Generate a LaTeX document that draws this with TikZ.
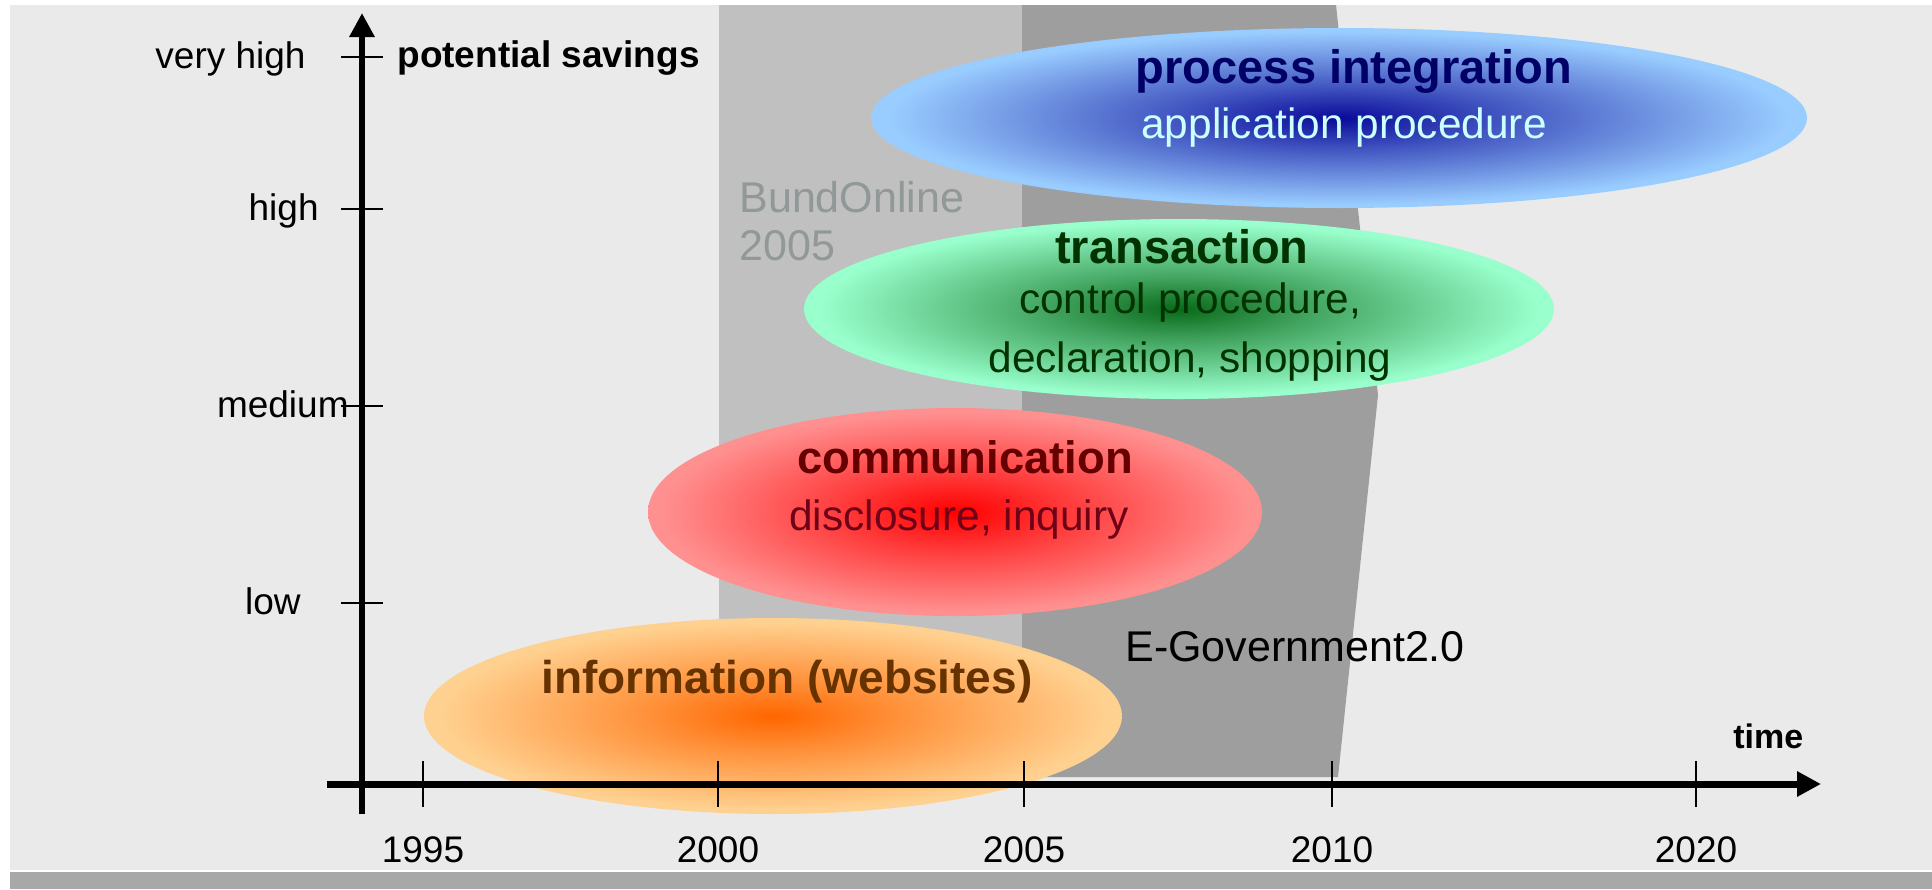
\documentclass[tikz,border=0pt]{standalone}
\usepackage{fontspec}
\setmainfont{Liberation Sans}
\usepackage{xcolor}
\usepackage{tikz}
\usetikzlibrary{arrows.meta}
\usetikzlibrary{shapes.geometric}
\definecolor{panel}{HTML}{EAEAEA}
\definecolor{footbar}{HTML}{A8A8A8}
\definecolor{bandlight}{HTML}{C0C0C0}
\definecolor{banddark}{HTML}{9E9E9E}
\definecolor{bandgray}{HTML}{909898}
\definecolor{intin}{HTML}{0A0A99}
\definecolor{intout}{HTML}{99CCFF}
\definecolor{trnin}{HTML}{0A6A1A}
\definecolor{trnout}{HTML}{99FFCC}
\definecolor{comin}{HTML}{FF0000}
\definecolor{comout}{HTML}{FF9090}
\definecolor{infin}{HTML}{FF6600}
\definecolor{infout}{HTML}{FFD190}
\definecolor{inttitle}{HTML}{000066}
\definecolor{intsub}{HTML}{CCFFFF}
\definecolor{trntitle}{HTML}{003300}
\definecolor{comtitle}{HTML}{660000}
\definecolor{comsub}{HTML}{6E0018}
\definecolor{inftitle}{HTML}{663300}
\newcommand\fsz[1]{\fontsize{#1}{#1}\selectfont}
\newcommand\declareglow[3]{\pgfdeclareradialshading{#1}{\pgfpoint{0bp}{0bp}}{color(0bp)=(#2); color(9bp)=(#2!60!#3); color(24bp)=(#3); color(50bp)=(#3)}}
\declareglow{glowint}{intin}{intout}
\declareglow{glowtrn}{trnin}{trnout}
\declareglow{glowcom}{comin}{comout}
\declareglow{glowinf}{infin}{infout}
\tikzstyle{blob}=[ellipse,shade,inner sep=0pt]
\tikzstyle{title}=[inner sep=0pt,anchor=base,font=\fsz{23.5pt}\bfseries]
\tikzstyle{subtitle}=[inner sep=0pt,anchor=base,font=\fsz{21.2pt}]
\tikzstyle{level}=[inner sep=0pt,anchor=base east,font=\fsz{18.5pt}]
\tikzstyle{yearlabel}=[inner sep=0pt,anchor=base,font=\fsz{18.5pt}]
\tikzstyle{bandtext}=[inner sep=0pt,anchor=base west,font=\fsz{21.5pt}]
\tikzstyle{axis}=[-{Triangle[length=12pt,width=12pt]}]
\tikzstyle{tick}=[line width=0.8pt]

\begin{document}
\begin{tikzpicture}[x=0.5pt,y=-0.5pt]
	\useasboundingbox (0,0) rectangle (1932,889);
	% backdrop and the two project periods
	\fill[panel] (10,5) rectangle (1932,870);
	\fill[footbar] (10,872) rectangle (1932,889);
	\fill[bandlight] (719,5) rectangle (1022,777);
	\fill[banddark] (1022,5) -- (1336,5) -- (1378,395) -- (1338,777) -- (1022,777) -- cycle;
	\node[bandtext,text=bandgray] (bund) at (739,212) {BundOnline};
	\node[bandtext,text=bandgray] (bundyr) at (739,260) {2005};
	\node[bandtext] (egov) at (1125,661) {E-Government2.0};
	% stages
	\node[blob,shading=glowint,minimum width=468pt,minimum height=90pt] (integ) at (1339,118) {};
	\node[blob,shading=glowtrn,minimum width=375pt,minimum height=90pt] (trans) at (1179,309) {};
	\node[blob,shading=glowcom,minimum width=307pt,minimum height=104pt] (commu) at (955,512) {};
	\node[blob,shading=glowinf,minimum width=349pt,minimum height=98pt] (infor) at (773,716) {};
	\node[title,text=inttitle] (integ-t) at (1354,83) {process integration};
	\node[subtitle,text=intsub] (integ-s) at (1344,138) {application procedure};
	\node[title,text=trntitle] (trans-t) at (1182,263) {transaction};
	\node[subtitle,text=trntitle] (trans-s1) at (1190,313) {control procedure,};
	\node[subtitle,text=trntitle] (trans-s2) at (1190,372) {declaration, shopping};
	\node[title,text=comtitle,font=\fsz{22.7pt}\bfseries] (commu-t) at (965,473) {communication};
	\node[subtitle,text=comsub] (commu-s) at (959,530) {disclosure, inquiry};
	\node[title,text=inftitle,font=\fsz{23pt}\bfseries] (infor-t) at (787,693) {information (websites)};
	% axes
	\coordinate (ybot) at (362,814);
	\coordinate (ytop) at (362,13);
	\coordinate (xleft) at (327,784);
	\coordinate (xright) at (1821,784);
	\draw[axis,line width=3pt] (ybot) -- (ytop);
	\draw[axis,line width=3.5pt] (xleft) -- (xright);
	\node[level,anchor=base west,font=\fsz{18.5pt}\bfseries] (ylabel) at (397,67) {potential savings};
	\node[level,anchor=base west,font=\fsz{17pt}\bfseries] (xlabel) at (1733,748) {time};
	\foreach \yr/\tx in {1995/423,2000/718,2005/1024,2010/1332,2020/1696} {
		\draw[tick] (\tx,761) -- (\tx,807);
		\node[yearlabel] (yr\yr) at (\tx,862) {\yr};
	}
	\foreach \lvl/\ty/\lx [count=\i] in {very high/57/306,high/209/319,medium/406/349,low/603/301} {
		\draw[tick,line width=1pt] (341,\ty) -- (383,\ty);
		\node[level] (lvl\i) at (\lx,\ty+11) {\lvl};
	}
\end{tikzpicture}
\end{document}
